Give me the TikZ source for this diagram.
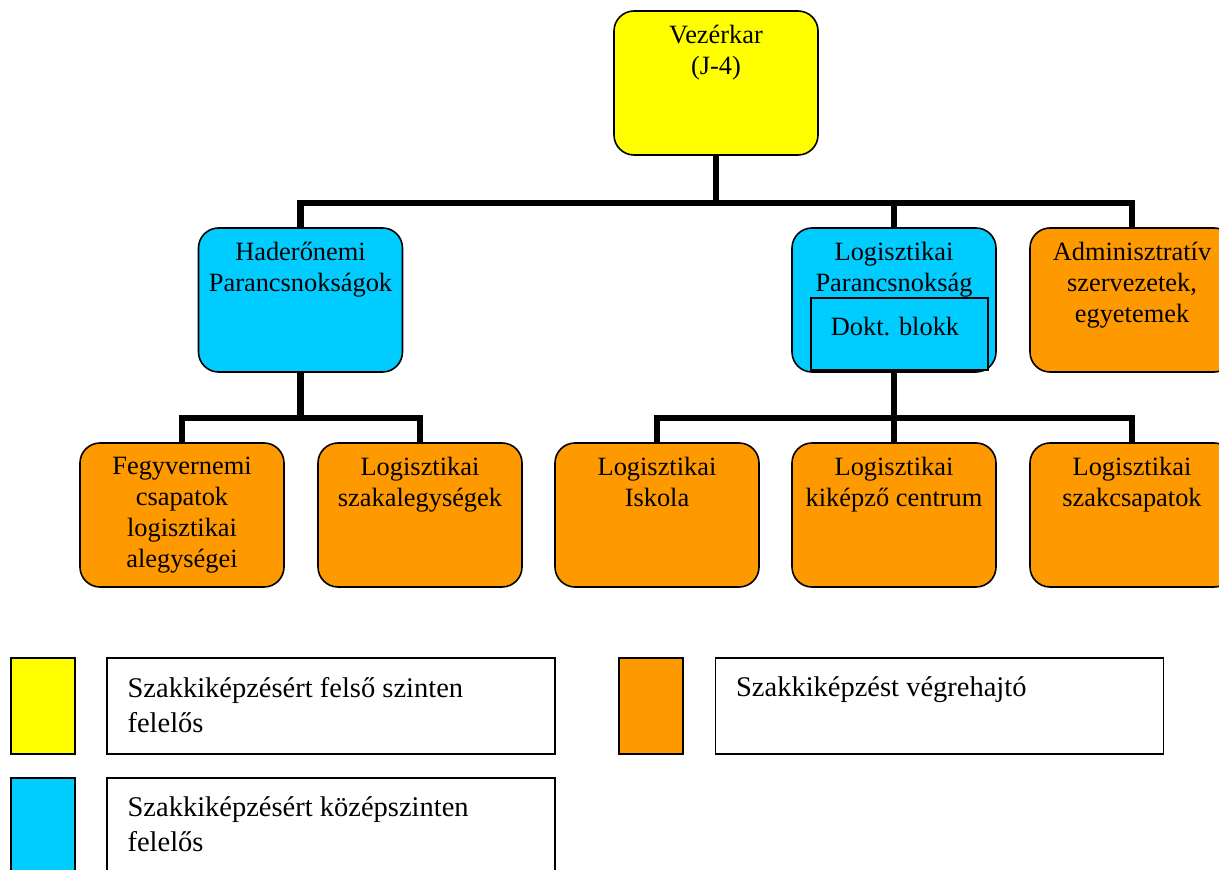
\documentclass[tikz,border=0pt]{standalone}
\usepackage{fontspec}
\setmainfont{Liberation Serif}
\definecolor{chiefyellow}{HTML}{FFFF00}
\definecolor{midblue}{HTML}{00CCFF}
\definecolor{execorange}{HTML}{FF9900}
\tikzset{
  unit/.style={draw=black, line width=0.8pt, rounded corners=10pt, minimum width=102pt, minimum height=72pt, inner sep=0pt},
  unittext/.style={anchor=north, inner sep=0pt, yshift=-7.15pt, align=center, font=\fontsize{13.2}{15.5}\selectfont, execute at begin node=\strut},
  conn/.style={line width=3.25pt, draw=black},
  keybox/.style={draw=black, line width=0.8pt, minimum width=32pt, minimum height=48pt, inner sep=0pt},
  keyframe/.style={draw=black, line width=0.8pt, minimum width=224pt, minimum height=48pt, inner sep=0pt, fill=white},
  keytext/.style={anchor=north west, inner sep=0pt, xshift=10.5pt, yshift=-9.75pt, align=left, font=\fontsize{14.25}{17.5}\selectfont, execute at begin node=\strut}
}
\begin{document}
\begin{tikzpicture}[x=0.5pt, y=-0.5pt]
\useasboundingbox (0,0) rectangle (1219,870);
\clip (0,0) rectangle (1219,870);
\node[unit, fill=chiefyellow, label={[unittext]north:{Vezérkar\\(J-4)}}] (vez) at (716,83) {};
\node[unit, fill=midblue, label={[unittext]north:{Haderőnemi\\Parancsnokságok}}] (hader) at (300.5,300) {};
\node[unit, fill=midblue, label={[unittext]north:{Logisztikai\\Parancsnokság}}] (logpk) at (894,300) {};
\node[unit, fill=execorange, label={[unittext]north:{Adminisztratív\\szervezetek,\\egyetemek}}] (admin) at (1132,300) {};
\node[draw=black, line width=0.6pt, fill=midblue, minimum width=88.5pt, minimum height=36pt, inner sep=0pt, label={[unittext, xshift=-2.25pt, yshift=-1pt]north:{Dokt. blokk}}] (dokt) at (899.5,334) {};
\node[unit, fill=execorange, label={[unittext]north:{Fegyvernemi\\csapatok\\logisztikai\\alegységei}}] (fegyv) at (182,515) {};
\node[unit, fill=execorange, label={[unittext]north:{Logisztikai\\szakalegységek}}] (szakal) at (420,515) {};
\node[unit, fill=execorange, label={[unittext]north:{Logisztikai\\Iskola}}] (iskola) at (657,515) {};
\node[unit, fill=execorange, label={[unittext]north:{Logisztikai\\kiképző centrum}}] (kikep) at (894,515) {};
\node[unit, fill=execorange, label={[unittext]north:{Logisztikai\\szakcsapatok}}] (szakcs) at (1132,515) {};
\coordinate (bus1) at (716,203);
\coordinate (bus2) at (300.5,418);
\coordinate (bus3) at (894,418);
\draw[conn] (vez.south) -- (bus1);
\draw[conn] (hader.north) |- (bus1) -| (admin.north);
\draw[conn] (logpk.north) -- (logpk.north |- bus1);
\draw[conn] (hader.south) -- (bus2);
\draw[conn] (fegyv.north) |- (bus2) -| (szakal.north);
\draw[conn] (logpk.south) -- (bus3);
\draw[conn] (iskola.north) |- (bus3) -| (szakcs.north);
\draw[conn] (kikep.north) -- (kikep.north |- bus3);
\node[keybox, fill=chiefyellow] (keytop) at (43,706) {};
\node[keyframe, label={[keytext]north west:{Szakkiképzésért felső szinten\\felelős}}] (keytoptext) at (331,706) {};
\node[keybox, fill=execorange] (keyexec) at (651,706) {};
\node[keyframe, label={[keytext, yshift=2.5pt]north west:{Szakkiképzést végrehajtó}}] (keyexectext) at (939.5,706) {};
\node[keybox, fill=midblue] (keymid) at (43,826) {};
\node[keyframe, label={[keytext]north west:{Szakkiképzésért középszinten\\felelős}}] (keymidtext) at (331,826) {};
\end{tikzpicture}
\end{document}
